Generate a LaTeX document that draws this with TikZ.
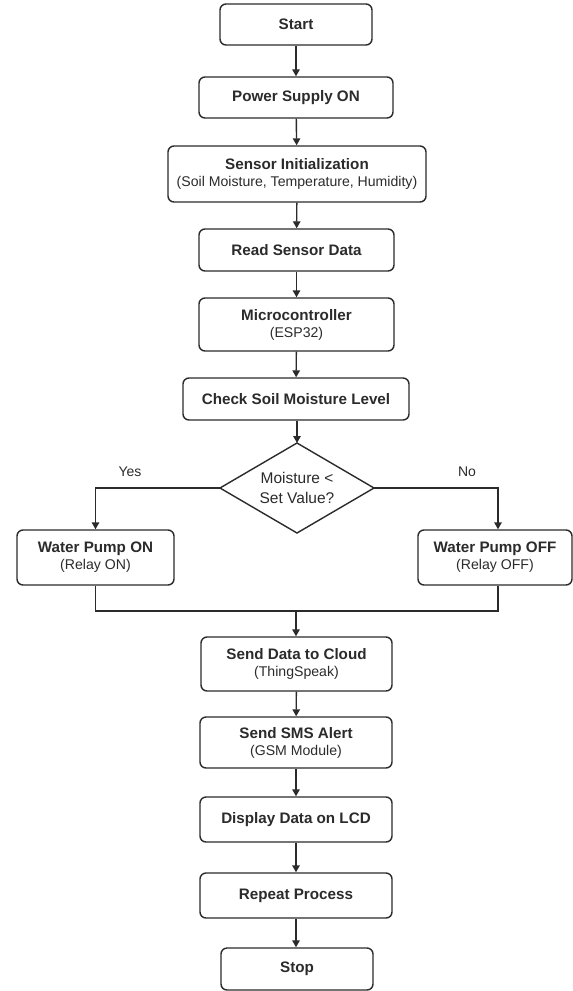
\documentclass[tikz,border=0pt]{standalone}
\usepackage{fontspec}
\setmainfont{Liberation Sans}
\usetikzlibrary{arrows.meta,shapes.geometric}

\definecolor{ink}{HTML}{2B2B2B}
\newcommand{\ttl}{\fontsize{15.2}{18}\selectfont\bfseries}
\newcommand{\sub}{\fontsize{14.1}{18}\selectfont\mdseries}

\tikzset{
  box/.style={draw=ink, line width=1.4pt, rounded corners=6pt, fill=white,
    text=ink, align=center, inner sep=0pt, font=\ttl},
  flow/.style={draw=ink, line width=1.4pt, -{Triangle[width=7.5pt,length=7pt]}},
  wire/.style={draw=ink, line width=1.4pt},
  lbl/.style={text=ink, font=\fontsize{14}{16}\selectfont}
}

\begin{document}
\begin{tikzpicture}[x=1pt, y=-1pt]
\useasboundingbox (0,0) rectangle (573,991);

% main column of process steps
\node[box, minimum width=152pt, minimum height=41pt] (start) at (296,24.5) {Start};
\node[box, minimum width=194pt, minimum height=41pt] (power) at (296,97.5) {Power Supply ON};
\node[box, minimum width=258pt, minimum height=56pt] (init) at (297,174)
  {Sensor Initialization\\[-1pt]{\sub (Soil Moisture, Temperature, Humidity)}};
\node[box, minimum width=195pt, minimum height=42pt] (read) at (296.5,250) {Read Sensor Data};
\node[box, minimum width=195pt, minimum height=53pt] (mcu) at (296.5,324.5)
  {Microcontroller\\[-1pt]{\sub (ESP32)}};
\node[box, minimum width=226pt, minimum height=42pt] (check) at (296,399) {Check Soil Moisture Level};

% decision and its two branches
\draw[wire, fill=white] (297,443) -- (374,488) -- (297,533) -- (220,488) -- cycle;
\coordinate (dtop) at (297,443);
\coordinate (dleft) at (220,488);
\coordinate (dright) at (374,488);
\node[text=ink, align=center, font=\fontsize{15.5}{20}\selectfont, inner sep=0pt] (dec) at (297,488)
  {Moisture <\\Set Value?};

\node[box, minimum width=157pt, minimum height=55pt] (pon) at (95.5,557.5)
  {Water Pump ON\\[-1pt]{\sub (Relay ON)}};
\node[box, minimum width=154pt, minimum height=55pt] (poff) at (495,557.5)
  {Water Pump OFF\\[-1pt]{\sub (Relay OFF)}};

% merge and output steps
\node[box, minimum width=191pt, minimum height=54pt] (cloud) at (296.5,664)
  {Send Data to Cloud\\[-1pt]{\sub (ThingSpeak)}};
\node[box, minimum width=192pt, minimum height=51pt] (sms) at (296,742.5)
  {Send SMS Alert\\[-1pt]{\sub (GSM Module)}};
\node[box, minimum width=192pt, minimum height=45pt] (lcd) at (296,819.5) {Display Data on LCD};
\node[box, minimum width=192pt, minimum height=45pt] (rep) at (296,895.5) {Repeat Process};
\node[box, minimum width=152pt, minimum height=42pt] (stop) at (297,969) {Stop};

% connectors
\draw[flow] (start) -- (power);
\draw[flow] (power) -- (init);
\draw[flow] (init) -- (read);
\draw[flow] (read) -- (mcu);
\draw[flow] (mcu) -- (check);
\draw[flow] (check.south -| dtop) -- (dtop);

\coordinate (yesx) at (95.5,488);
\coordinate (nox) at (498,488);
\draw[flow] (dleft) -- (yesx) -- (yesx |- pon.north);
\draw[flow] (dright) -- (nox) -- (nox |- poff.north);
\node[lbl] (yes) at (130,472) {Yes};
\node[lbl] (no) at (467,472) {No};

\coordinate (mleft) at (95.5,611);
\coordinate (mright) at (498,611);
\coordinate (mmid) at (296,611);
\draw[wire] (pon.south) -- (mleft) -- (mright) -- (mright |- poff.south);
\draw[flow] (mmid) -- (cloud.north -| mmid);

\draw[flow] (cloud) -- (sms);
\draw[flow] (sms) -- (lcd);
\draw[flow] (lcd) -- (rep);
\draw[flow] (rep.south) -- (rep.south |- stop.north);
\end{tikzpicture}
\end{document}
